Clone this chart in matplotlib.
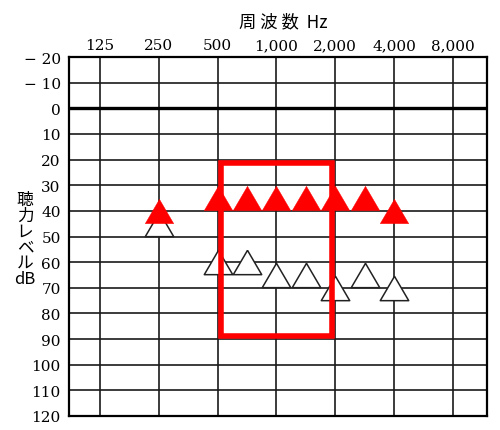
import matplotlib
matplotlib.use("Agg")
import matplotlib.pyplot as plt
from matplotlib.patches import Rectangle
import numpy as np

# ---- data ----
grid_freqs = [125, 250, 500, 1000, 2000, 4000, 8000]
grid_labels = ["125", "250", "500", "1,000", "2,000", "4,000", "8,000"]
db_ticks = list(range(-20, 121, 10))
db_labels = ["− 20", "− 10"] + [str(v) for v in range(0, 121, 10)]

freqs = [250, 500, 750, 1000, 1500, 2000, 3000, 4000]
red_db = [40, 35, 35, 35, 35, 35, 35, 40]
white_db = [45, 60, 60, 65, 65, 70, 65, 70]

box_freqs = [500, 2000]
box_db = [20, 90]

ylabel_text = "聴\n力\nレ\nベ\nル\ndB"
title_text = "周 波 数  Hz"

# audiogram x positions: octaves evenly spaced, half-octave points at midpoints
_audio_f = [125, 250, 500, 750, 1000, 1500, 2000, 3000, 4000, 6000, 8000]
_audio_p = [0, 1, 2, 2.5, 3, 3.5, 4, 4.5, 5, 5.5, 6]
def xpos(f):
    return np.interp(f, _audio_f, _audio_p)

fig = plt.figure(figsize=(5.0, 4.31), dpi=100)
ax = fig.add_axes([69/500, 1-417/431, (487-69)/500, (417-58)/431])

ax.set_xlim(-0.527, 6.578)
ax.set_ylim(120, -20)

serif = "DejaVu Serif"
cjk = ["Noto Sans CJK JP", "DejaVu Sans"]

# grid
for f in grid_freqs:
    ax.axvline(xpos(f), color="#1a1a1a", lw=1.2, zorder=1)
for v in db_ticks:
    if v == 0:
        ax.axhline(v, color="black", lw=2.4, zorder=1.5)
    else:
        ax.axhline(v, color="#1a1a1a", lw=1.2, zorder=1)

for s in ax.spines.values():
    s.set_linewidth(1.6)
    s.set_color("black")

ax.set_xticks([])
ax.set_yticks(db_ticks)
ax.set_yticklabels(db_labels, fontfamily=serif, fontsize=11)
ax.tick_params(axis="y", length=0, pad=6)

# top frequency labels
for f, lab in zip(grid_freqs, grid_labels):
    ax.text(xpos(f), -21.8, lab, ha="center", va="bottom",
            fontfamily=serif, fontsize=11)

# triangle marker slightly wider than tall
tri = [(0, 1), (-1.17, -1), (1.17, -1), (0, 1)]

ax.plot(xpos(freqs), white_db, linestyle="none", marker=tri, ms=20.5,
        mfc="white", mec="#222222", mew=1.1, zorder=3)
ax.plot(xpos(freqs), red_db, linestyle="none", marker=tri, ms=20.5,
        mfc="#ff0000", mec="#ff0000", mew=0.3, zorder=4)

# red box (stroke inside bounds)
ix, iy = 0.05, 1.2
x0, x1 = xpos(box_freqs[0]) + ix, xpos(box_freqs[1]) - ix
y0, y1 = box_db[0] + iy, box_db[1] - iy
ax.add_patch(Rectangle((x0, y0), x1 - x0, y1 - y0, fill=False,
                       edgecolor="#ff0000", lw=4.0, zorder=5,
                       joinstyle="miter"))

# title
fig.text(283/500, 1-22/431, title_text, ha="center", va="center",
         fontfamily=cjk, fontsize=12.5)

# vertical y label (one stacked text)
fig.text(25/500, 1-240/431, ylabel_text, ha="center", va="center",
         multialignment="center", fontfamily=cjk, fontsize=12,
         linespacing=0.9)

fig.savefig("out.png", dpi=100)
